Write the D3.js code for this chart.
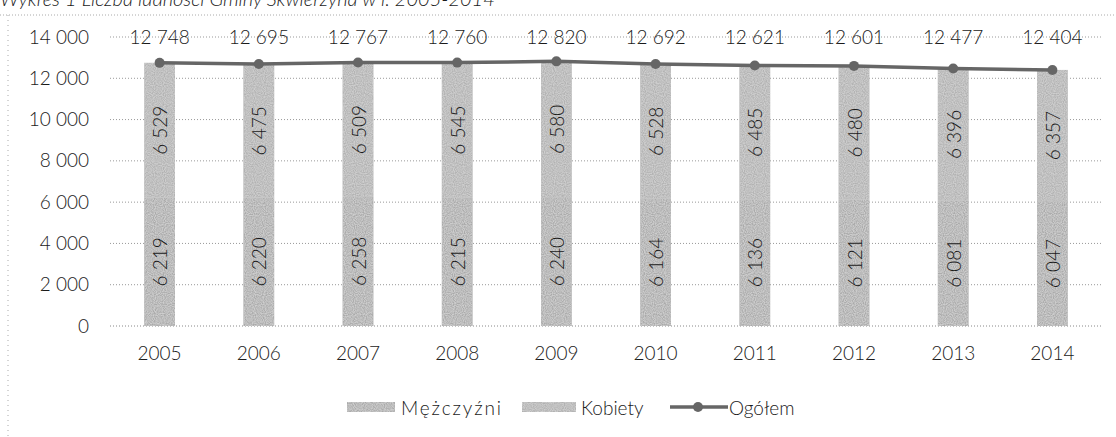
<!DOCTYPE html>
<html><head><meta charset="utf-8">
<script src="https://cdn.jsdelivr.net/npm/d3@7"></script>
<style>
body{margin:0;background:#fff;}
text{font-family:"Lato","Open Sans",sans-serif;font-weight:300;fill:#1a1a1a;}
</style></head>
<body><svg id="c" width="1116" height="437"></svg>
<script>
const years = ["2005","2006","2007","2008","2009","2010","2011","2012","2013","2014"];
const mezczyzni = [6219,6220,6258,6215,6240,6164,6136,6121,6081,6047];
const kobiety = [6529,6475,6509,6545,6580,6528,6485,6480,6396,6357];
const ogolem = [12748,12695,12767,12760,12820,12692,12621,12601,12477,12404];
const yTicks = [0,2000,4000,6000,8000,10000,12000,14000];
const seriesNames = ["Mężczyźni","Kobiety","Ogółem"];
const title = "Wykres 1 Liczba ludności Gminy Skwierzyna w l. 2005-2014";

const FS = "19px";
const svg = d3.select("#c");
const fmt = v => d3.format(",")(v).replace(/,/g, "\u00a0");
const x = d3.scaleBand().domain(years).range([110,1102]).paddingInner(0.69).paddingOuter(0.345);
const y = d3.scaleLinear().domain([0,14000]).range([326,37]);

// texture filter
const defs = svg.append("defs");
const f = defs.append("filter").attr("id","grain").attr("x",0).attr("y",0).attr("width",1).attr("height",1);
f.append("feTurbulence").attr("type","fractalNoise").attr("baseFrequency",0.9).attr("numOctaves",1).attr("seed",3).attr("result","n");
f.append("feColorMatrix").attr("in","n").attr("type","matrix")
 .attr("values","0 0 0 0 0.62  0 0 0 0 0.62  0 0 0 0 0.62  0 0 0 -2.2 1.6").attr("result","g");
f.append("feComposite").attr("in","g").attr("in2","SourceGraphic").attr("operator","in").attr("result","gc");
f.append("feMerge").call(m=>{m.append("feMergeNode").attr("in","SourceGraphic");m.append("feMergeNode").attr("in","gc");});

// frame
svg.append("line").attr("x1",0).attr("x2",1116).attr("y1",15).attr("y2",15)
  .attr("stroke","#aaa").attr("stroke-dasharray","1,2");
svg.append("line").attr("x1",8).attr("x2",8).attr("y1",15).attr("y2",437)
  .attr("stroke","#aaa").attr("stroke-dasharray","1,4");
svg.append("text").attr("x",0).attr("y",6).style("font-style","italic").style("font-size","20px").text(title);

// grid
svg.append("g").selectAll("line").data(yTicks).join("line")
  .attr("x1",110).attr("x2",1102).attr("y1",d=>y(d)).attr("y2",d=>y(d))
  .attr("stroke",d=>d===0?"#888":"#999").attr("stroke-dasharray","1,2");

// y axis labels
const yAxis = d3.axisLeft(y).tickValues(yTicks).tickFormat(fmt).tickSize(0).tickPadding(0);
const ya = svg.append("g").attr("transform","translate(89,0)").call(yAxis);
ya.select(".domain").remove();
ya.selectAll("text").style("font-size",FS).style("font-family","Lato").attr("fill","#1a1a1a");

// x axis labels
const xAxis = d3.axisBottom(x).tickSize(0).tickPadding(0);
const xa = svg.append("g").attr("transform","translate(0,346)").call(xAxis);
xa.select(".domain").remove();
xa.selectAll("text").style("font-size",FS).style("font-family","Lato").attr("fill","#1a1a1a");

// bars
const bw = x.bandwidth();
const g = svg.append("g");
g.selectAll(".m").data(years).join("rect")
  .attr("x",d=>x(d)).attr("width",bw)
  .attr("y",(d,i)=>y(mezczyzni[i])).attr("height",(d,i)=>y(0)-y(mezczyzni[i]))
  .attr("fill","#aaaaaa").attr("filter","url(#grain)");
g.selectAll(".k").data(years).join("rect")
  .attr("x",d=>x(d)).attr("width",bw)
  .attr("y",(d,i)=>y(mezczyzni[i]+kobiety[i])).attr("height",(d,i)=>y(mezczyzni[i])-y(mezczyzni[i]+kobiety[i]))
  .attr("fill","#b2b2b2").attr("filter","url(#grain)");

// bar labels
const lbl = (vals, base) => g.selectAll(null).data(years).join("text")
  .attr("transform",(d,i)=>`translate(${x(d)+bw/2},${y(base[i]+vals[i]/2)}) rotate(-90)`)
  .attr("text-anchor","middle").attr("dominant-baseline","central")
  .style("font-size",FS).text((d,i)=>fmt(vals[i]));
lbl(mezczyzni, years.map(()=>0));
lbl(kobiety, mezczyzni);

// line
const cx = d => x(d)+bw/2;
const line = d3.line().x((d,i)=>cx(years[i])).y(d=>y(d));
svg.append("path").datum(ogolem).attr("d",line).attr("fill","none").attr("stroke","#666").attr("stroke-width",3.5);
svg.selectAll(".pt").data(ogolem).join("circle")
  .attr("cx",(d,i)=>cx(years[i])).attr("cy",d=>y(d)).attr("r",5).attr("fill","#666");
svg.selectAll(".ol").data(ogolem).join("text")
  .attr("x",(d,i)=>cx(years[i])).attr("y",y(14000)-1)
  .attr("text-anchor","middle").attr("dominant-baseline","central")
  .style("font-size",FS).text(d=>fmt(d));

// legend
const lg = svg.append("g").attr("transform","translate(0,407)");
lg.append("rect").attr("x",347).attr("y",-5).attr("width",48).attr("height",10).attr("fill","#aaaaaa").attr("filter","url(#grain)");
lg.append("text").attr("x",401).attr("y",0).attr("dominant-baseline","central").style("font-size",FS).attr("textLength",100).text(seriesNames[0]);
lg.append("rect").attr("x",522).attr("y",-5).attr("width",54).attr("height",10).attr("fill","#b2b2b2").attr("filter","url(#grain)");
lg.append("text").attr("x",581).attr("y",0).attr("dominant-baseline","central").style("font-size",FS).text(seriesNames[1]);
lg.append("line").attr("x1",670).attr("x2",728).attr("y1",0).attr("y2",0).attr("stroke","#666").attr("stroke-width",3.5);
lg.append("circle").attr("cx",698).attr("cy",0).attr("r",5).attr("fill","#666");
lg.append("text").attr("x",729).attr("y",0).attr("dominant-baseline","central").style("font-size",FS).text(seriesNames[2]);
</script></body></html>
